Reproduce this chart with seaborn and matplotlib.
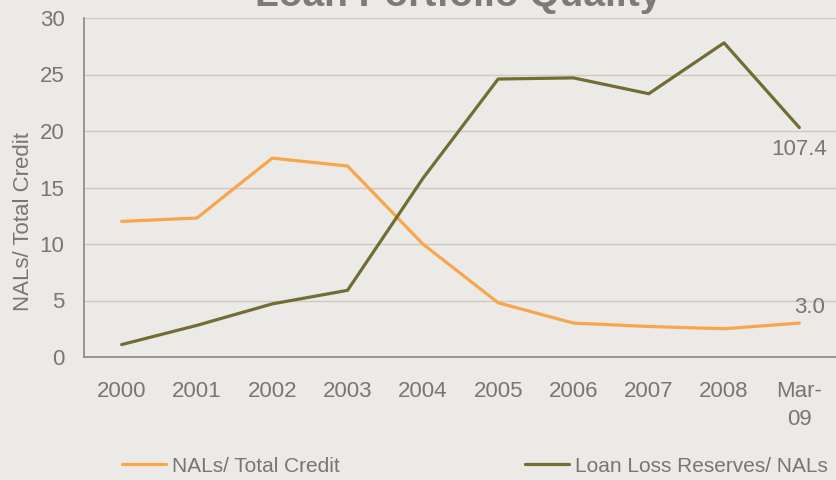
import pandas as pd
import seaborn as sns
import matplotlib.pyplot as plt

# chart data
periods = ["2000", "2001", "2002", "2003", "2004", "2005", "2006", "2007", "2008", "Mar-\n09"]
nals_total_credit = [12.0, 12.3, 17.6, 16.9, 10.0, 4.8, 3.0, 2.7, 2.5, 3.0]
reserves_nals = [1.1, 2.8, 4.7, 5.9, 15.8, 24.6, 24.7, 23.3, 27.8, 20.3]
series_names = ["NALs/ Total Credit", "Loan Loss Reserves/ NALs"]
end_labels = ["3.0", "107.4"]

bg = "#ECEAE6"
txt = "#7A7572"
orange = "#F7A64B"
olive = "#726C35"

df = pd.DataFrame({
    "pos": list(range(len(periods))) * 2,
    "value": nals_total_credit + reserves_nals,
    "series": [series_names[0]] * len(periods) + [series_names[1]] * len(periods),
})

sns.set_theme(style="white")
plt.rcParams["font.family"] = ["Liberation Sans", "DejaVu Sans"]

fig = plt.figure(figsize=(8.37, 4.8), dpi=100, facecolor=bg)
ax = fig.add_axes([84 / 837, 1 - 357 / 480, 753 / 837, 339 / 480])
ax.set_facecolor(bg)

sns.lineplot(data=df, x="pos", y="value", hue="series",
             palette=[orange, olive], linewidth=2.3, ax=ax, legend=True)

ax.set_xlim(-0.5, len(periods) - 0.5)
ax.set_ylim(0, 30)
ax.set_yticks(range(0, 31, 5))
ax.set_xticks(range(len(periods)))
ax.set_xticklabels(periods, color=txt, fontsize=16, linespacing=1.45)
ax.tick_params(axis="y", colors=txt, labelsize=16, pad=14, length=0)
ax.tick_params(axis="x", colors=txt, pad=17, length=0)
for lab in ax.get_yticklabels():
    lab.set_color(txt)
ax.grid(axis="y", color="#CEC7C2", linewidth=1)
ax.set_axisbelow(True)
for s in ["top", "right"]:
    ax.spines[s].set_visible(False)
for s in ["left", "bottom"]:
    ax.spines[s].set_color("#8C8784")
    ax.spines[s].set_linewidth(1.2)

ax.set_xlabel("")
ax.set_ylabel("NALs/ Total Credit", color=txt, fontsize=16)
ax.yaxis.set_label_coords(-0.066, 0.40)

# end-point labels
last = len(periods) - 1
ax.annotate(end_labels[0], (last, nals_total_credit[-1]), xytext=(7, 4),
            textcoords="offset points", color=txt, fontsize=16, ha="center", va="bottom")
ax.annotate(end_labels[1], (last, reserves_nals[-1]), xytext=(0, -8),
            textcoords="offset points", color=txt, fontsize=16, ha="center", va="top")

fig.text(458 / 837, 1 - 6 / 480, "Loan Portfolio Quality", ha="center", va="baseline",
         fontsize=28, fontweight="bold", color="#7E7A78")

handles, labels = ax.get_legend_handles_labels()
ax.legend(handles, labels, loc="center left", bbox_to_anchor=(122 / 837, 1 - 466 / 480),
          bbox_transform=fig.transFigure, ncol=2, frameon=False, fontsize=15,
          labelcolor=txt, handlelength=2.1, handletextpad=0.3, columnspacing=8.9,
          borderpad=0, borderaxespad=0)

fig.savefig("out.png", dpi=100, facecolor=bg)
